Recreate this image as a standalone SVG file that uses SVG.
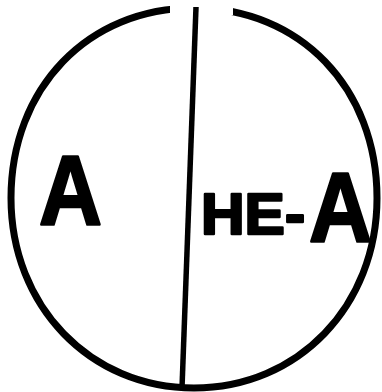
<svg xmlns="http://www.w3.org/2000/svg" width="382" height="392" viewBox="0 0 382 392">
  <style>
    .ink { fill: none; stroke: #000; }
    .lbl { font-family: "Liberation Sans", Arial, sans-serif; font-weight: bold; fill: #000; stroke: #000; stroke-linejoin: round; }
  </style>
  <defs>
    <clipPath id="topGap">
      <path d="M0 0H170V15H233V0H382V392H0Z"/>
    </clipPath>
  </defs>
  <rect width="382" height="392" fill="#fff"/>
  <g id="outline">
    <path class="ink" stroke-width="7" clip-path="url(#topGap)"
      d="M194,8 C300,8 377,88 377,198 C377,306 298,388 194,388 C90,388 11,306 11,198 C11,88 88,8 194,8 Z"/>
  </g>
  <g id="connectors">
    <path id="divider" class="ink" stroke-width="5.5" d="M196,7 L182,388"/>
  </g>
  <g id="left-region">
    <text class="lbl" x="39" y="224" font-size="98" stroke-width="2.5" textLength="63" lengthAdjust="spacingAndGlyphs">A</text>
  </g>
  <g id="right-region">
    <text class="lbl" x="201" y="234" font-size="57" stroke-width="2.5" textLength="104" lengthAdjust="spacingAndGlyphs">HE-</text>
    <text class="lbl" x="309" y="241" font-size="98" stroke-width="2.5" textLength="63" lengthAdjust="spacingAndGlyphs">A</text>
  </g>
</svg>
